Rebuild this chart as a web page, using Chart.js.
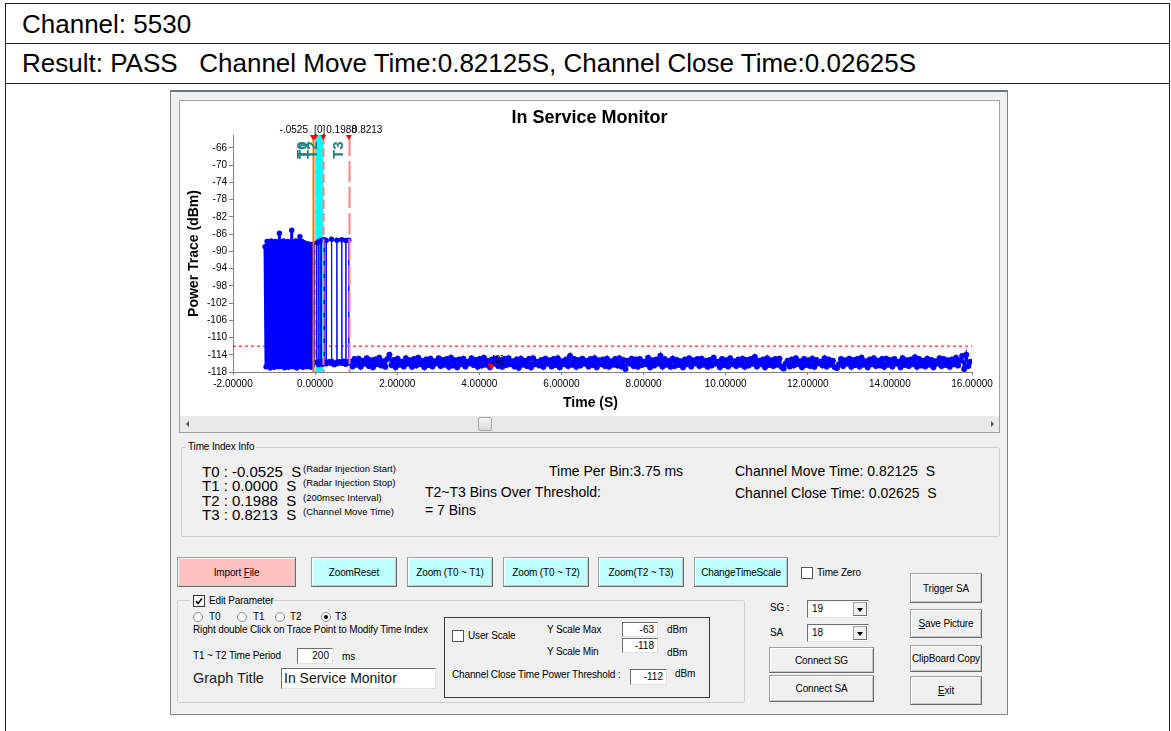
<!DOCTYPE html>
<html>
<head>
<meta charset="utf-8">
<title>In Service Monitor</title>
<script src="https://cdn.jsdelivr.net/npm/chart.js@4.4.1/dist/chart.umd.min.js"></script>
<style>
body{margin:0;width:1171px;height:731px;position:relative;overflow:hidden;background:#fff;font-family:"Liberation Sans",Arial,sans-serif;color:#000}
div,span{box-sizing:border-box}
.ln{position:absolute;background:#222}
.big{position:absolute;font-size:26px;line-height:30px;white-space:pre}
.win{position:absolute;left:170px;top:90px;width:838px;height:625px;background:#f0f0f0;border:1px solid #7d8790;border-top:2px solid #6a7682}
.panel{position:absolute;left:179px;top:100px;width:821px;height:333px;background:#fff;border:1px solid #a0a0a0}
#chartBox{position:absolute;left:180px;top:101px;width:819px;height:315px}
.sb{position:absolute;left:180px;top:416px;width:819px;height:16px;background:#e9e9e9}
.thumb{position:absolute;left:478px;top:417px;width:14px;height:14px;border:1px solid #a6a6a6;border-radius:2px;background:linear-gradient(#f6f6f6,#dadada)}
.grp{position:absolute;border:1px solid #cfcfcf;border-radius:2px}
.t{position:absolute;white-space:pre;font-size:10px;line-height:12px;letter-spacing:-0.15px}
.tb{position:absolute;white-space:pre;font-size:15px;line-height:16px}
.tm{position:absolute;white-space:pre;font-size:14px;line-height:16px}
.ts{position:absolute;white-space:pre;font-size:9.5px;line-height:12px}
.btn{position:absolute;background:#f0f0f0;border:1px solid #a0a0a0;border-right-color:#6a6a6a;border-bottom-color:#6a6a6a;box-shadow:inset 1px 1px #fff,inset -1px -1px #c8c8c8;font-size:10px;letter-spacing:-0.15px;display:flex;align-items:center;justify-content:center;white-space:pre}
.pink{background:#ffc0c0}
.cyan{background:#c0ffff}
.inp{position:absolute;background:#fff;border:1px solid;border-color:#6d6d6d #e0e0e0 #e0e0e0 #6d6d6d;font-size:10px;line-height:13px;text-align:right;padding-right:3px;white-space:pre}
.chk{position:absolute;width:12px;height:12px;background:#fff;border:1px solid #333}
.rad{position:absolute;width:10px;height:10px;border-radius:50%;background:#fff;border:1px solid #8a8a8a}
.combo{position:absolute;width:62px;background:#fff;border:1px solid;border-color:#6d6d6d #e0e0e0 #e0e0e0 #6d6d6d;font-size:10px;padding-left:4px;line-height:15px}
.drop{position:absolute;right:1px;top:1px;bottom:1px;width:14px;background:#f0f0f0;border:1px solid #a0a0a0;border-right-color:#6a6a6a;border-bottom-color:#6a6a6a}
.drop:after{content:"";position:absolute;left:3px;top:5px;border-left:3.5px solid transparent;border-right:3.5px solid transparent;border-top:4px solid #000}
</style>
</head>
<body>

<!-- report table -->
<div class="ln" style="left:5px;top:3px;width:1165px;height:1px"></div>
<div class="ln" style="left:5px;top:43px;width:1165px;height:1px"></div>
<div class="ln" style="left:5px;top:83px;width:1165px;height:1px"></div>
<div class="ln" style="left:5px;top:3px;width:1px;height:728px"></div>
<div class="ln" style="left:1169px;top:3px;width:1px;height:728px"></div>
<div class="big" style="left:22px;top:9px">Channel: 5530</div>
<div class="big" style="left:22px;top:48px">Result: PASS   Channel Move Time:0.82125S, Channel Close Time:0.02625S</div>

<!-- application window -->
<div class="win"></div>
<div class="panel"></div>
<div id="chartBox"><canvas id="chart"></canvas></div>
<div class="sb"></div>
<div style="position:absolute;left:186px;top:421px;border-top:3px solid transparent;border-bottom:3px solid transparent;border-right:3px solid #555"></div>
<div style="position:absolute;left:991px;top:421px;border-top:3px solid transparent;border-bottom:3px solid transparent;border-left:3px solid #555"></div>
<div class="thumb"></div>

<!-- time index info -->
<div class="grp" style="left:181px;top:447px;width:819px;height:90px"></div>
<div class="t" style="left:186px;top:441px;background:#f0f0f0;padding:0 2px">Time Index Info</div>
<div class="tb" style="left:202px;top:464px">T0 : -0.0525  S</div>
<div class="tb" style="left:202px;top:478px">T1 : 0.0000  S</div>
<div class="tb" style="left:202px;top:493px">T2 : 0.1988  S</div>
<div class="tb" style="left:202px;top:507px">T3 : 0.8213  S</div>
<div class="ts" style="left:303px;top:463px">(Radar Injection Start)</div>
<div class="ts" style="left:303px;top:477px">(Radar Injection Stop)</div>
<div class="ts" style="left:303px;top:492px">(200msec Interval)</div>
<div class="ts" style="left:303px;top:506px">(Channel Move Time)</div>
<div class="tm" style="left:549px;top:463px">Time Per Bin:3.75 ms</div>
<div class="tm" style="left:425px;top:484px">T2~T3 Bins Over Threshold:</div>
<div class="tm" style="left:425px;top:502px">= 7 Bins</div>
<div class="tm" style="left:735px;top:463px">Channel Move Time: 0.82125  S</div>
<div class="tm" style="left:735px;top:485px">Channel Close Time: 0.02625  S</div>

<!-- buttons row -->
<div class="btn pink" style="left:177px;top:557px;width:119px;height:30px">Import <u>F</u>ile</div>
<div class="btn cyan" style="left:311px;top:557px;width:86px;height:30px">ZoomReset</div>
<div class="btn cyan" style="left:407px;top:557px;width:86px;height:30px">Zoom (T0 ~ T1)</div>
<div class="btn cyan" style="left:503px;top:557px;width:86px;height:30px">Zoom (T0 ~ T2)</div>
<div class="btn cyan" style="left:598px;top:557px;width:86px;height:30px">Zoom(T2 ~ T3)</div>
<div class="btn cyan" style="left:694px;top:557px;width:94px;height:30px">ChangeTimeScale</div>
<div class="chk" style="left:801px;top:567px;border-color:#555"></div>
<div class="t" style="left:817px;top:567px">Time Zero</div>

<!-- edit parameter -->
<div class="grp" style="left:177px;top:600px;width:568px;height:103px"></div>
<div style="position:absolute;left:190px;top:594px;width:80px;height:14px;background:#f0f0f0"></div>
<div class="chk" style="left:193px;top:595px"><svg width="10" height="10" style="position:absolute;left:0;top:0"><polyline points="2,5 4,7.5 8,2.5" fill="none" stroke="#000" stroke-width="1.6"/></svg></div>
<div class="t" style="left:209px;top:595px">Edit Parameter</div>
<div class="rad" style="left:193px;top:612px"></div>
<div class="t" style="left:209px;top:611px">T0</div>
<div class="rad" style="left:237px;top:612px"></div>
<div class="t" style="left:253px;top:611px">T1</div>
<div class="rad" style="left:275px;top:612px"></div>
<div class="t" style="left:290px;top:611px">T2</div>
<div class="rad" style="left:321px;top:612px"><div style="position:absolute;left:2px;top:2px;width:4px;height:4px;border-radius:50%;background:#000"></div></div>
<div class="t" style="left:335px;top:611px">T3</div>
<div class="t" style="left:193px;top:624px">Right double Click on Trace Point to Modify Time Index</div>
<div class="t" style="left:193px;top:650px">T1 ~ T2 Time Period</div>
<div class="inp" style="left:297px;top:648px;width:36px;height:16px">200</div>
<div class="t" style="left:342px;top:651px">ms</div>
<div style="position:absolute;left:193px;top:669px;font-size:14.5px;line-height:18px;color:#222">Graph Title</div>
<div class="inp" style="left:281px;top:668px;width:155px;height:21px;text-align:left;padding-left:2px;font-size:14px;line-height:19px;color:#111">In Service Monitor</div>

<!-- scale box -->
<div style="position:absolute;left:444px;top:617px;width:266px;height:81px;border:1px solid #3a3a3a"></div>
<div class="chk" style="left:452px;top:630px;border-color:#555"></div>
<div class="t" style="left:468px;top:630px">User Scale</div>
<div class="t" style="left:547px;top:624px">Y Scale Max</div>
<div class="inp" style="left:622px;top:622px;width:36px;height:15px">-63</div>
<div class="t" style="left:667px;top:624px">dBm</div>
<div class="t" style="left:547px;top:646px">Y Scale Min</div>
<div class="inp" style="left:622px;top:638px;width:36px;height:15px">-118</div>
<div class="t" style="left:667px;top:647px">dBm</div>
<div class="t" style="left:452px;top:669px">Channel Close Time Power Threshold :</div>
<div class="inp" style="left:630px;top:669px;width:37px;height:16px">-112</div>
<div class="t" style="left:675px;top:668px">dBm</div>

<!-- SG / SA -->
<div class="t" style="left:770px;top:602px">SG :</div>
<div class="combo" style="left:807px;top:600px;height:18px">19<div class="drop"></div></div>
<div class="t" style="left:770px;top:627px">SA</div>
<div class="combo" style="left:807px;top:624px;height:18px">18<div class="drop"></div></div>
<div class="btn" style="left:769px;top:647px;width:105px;height:26px">Connect SG</div>
<div class="btn" style="left:769px;top:675px;width:105px;height:27px">Connect SA</div>

<div class="btn" style="left:910px;top:573px;width:72px;height:30px">Trigger SA</div>
<div class="btn" style="left:910px;top:609px;width:72px;height:29px"><u>S</u>ave Picture</div>
<div class="btn" style="left:910px;top:645px;width:72px;height:27px">ClipBoard Copy</div>
<div class="btn" style="left:910px;top:676px;width:72px;height:29px"><u>E</u>xit</div>

<script>
// axis setup
const X_MIN = -2, X_MAX = 16, X_STEP = 2;
const Y_MIN = -118, Y_MAX = -63;
const Y_TICKS = [-118, -114, -110, -106, -102, -98, -94, -90, -86, -82, -78, -74, -70, -66];
const THRESHOLD = -112;

// time index markers
const T_NAMES = ['T0', 'T1', 'T2', 'T3'];
const T_TIMES = [-0.0525, 0, 0.1988, 0.8213];
const T_TOP_LABELS = ['-.0525', '[0]', '0.1988', '0.8213'];

// peak marker "[0]"
const PEAK_TIME = 4.29;
const PEAK_POWER = -116.6;

// radar burst section: one reading per step, high/low alternating
const RADAR_T_START = -1.22, RADAR_T_STEP = 0.025;
const radarPower = [
  -88.9, -116.8, -87.7, -116.5, -87.9, -117.1, -87.6, -116.6, -88.0, -116.9,
  -87.7, -116.4, -87.8, -116.8, -85.8, -116.7, -87.9, -116.5, -87.6, -117.0,
  -88.1, -116.6, -87.7, -116.9, -87.9, -116.4, -85.1, -116.8, -87.8, -116.6,
  -87.6, -117.1, -87.9, -116.5, -86.6, -116.7, -87.7, -116.9, -88.0, -116.6,
  -88.2, -116.8, -88.3, -116.5, -88.4, -116.9, -88.4
];

// T0..T3 section: isolated bins over threshold
const stemTime = [
  -0.045, -0.040, -0.030, -0.020, -0.012, 0.005, 0.030, 0.035, 0.040, 0.085,
  0.090, 0.095, 0.140, 0.145, 0.150, 0.185, 0.215, 0.220, 0.225, 0.265,
  0.270, 0.275, 0.335, 0.395, 0.400, 0.405, 0.465, 0.525, 0.530, 0.535,
  0.590, 0.645, 0.650, 0.655, 0.700, 0.745, 0.750, 0.755, 0.790, 0.815,
  0.820, 0.825
];
const stemPower = [
  -116.4, -88.5, -116.2, -88.4, -116.0, -115.8, -115.6, -88.1, -116.1, -115.8,
  -87.7, -116.3, -115.5, -87.4, -115.9, -116.2, -116.0, -87.3, -115.7, -115.9,
  -87.5, -116.1, -115.6, -116.0, -87.2, -115.5, -116.3, -115.7, -87.4, -116.1,
  -115.6, -115.9, -87.3, -116.0, -115.5, -116.2, -87.5, -115.8, -115.6, -115.9,
  -87.4, -115.7
];

// noise floor after channel move
const FLOOR_T_START = 0.86, FLOOR_T_STEP = 0.05;
const floorPower = [
  -115.6, -116.7, -115.0, -116.3, -114.9, -116.8, -115.4, -116.1, -114.8, -116.6,
  -115.3, -116.9, -115.1, -116.2, -114.7, -116.5, -115.5, -116.8, -115.0, -114.0,
  -116.4, -115.2, -116.9, -114.9, -116.3, -115.6, -116.7, -114.8, -116.1, -115.3,
  -116.8, -115.0, -116.5, -114.7, -116.2, -115.4, -116.9, -115.1, -116.4, -114.9,
  -116.7, -115.5, -116.0, -114.8, -116.6, -115.2, -116.3, -115.0, -116.8, -114.7,
  -116.5, -115.3, -116.9, -115.1, -116.2, -114.9, -116.7, -115.6, -116.0, -114.8,
  -116.4, -115.2, -116.8, -115.0, -116.5, -114.7, -116.3, -115.4, -116.9, -115.1,
  -116.1, -114.9, -116.6, -115.3, -116.8, -115.0, -116.4, -114.8, -116.2, -115.5,
  -116.7, -115.1, -117.0, -114.9, -116.3, -115.4, -116.6, -115.0, -116.9, -114.8,
  -116.2, -115.6, -116.5, -115.2, -116.8, -114.9, -116.1, -115.3, -116.7, -115.0,
  -116.4, -114.8, -116.9, -115.5, -116.2, -115.1, -116.6, -114.3, -116.3, -115.0,
  -116.8, -115.2, -116.5, -114.9, -116.1, -115.4, -116.7, -115.0, -116.4, -114.8,
  -116.9, -115.3, -116.2, -115.1, -116.6, -114.9, -116.8, -115.5, -116.3, -115.0,
  -116.5, -114.8, -116.7, -115.2, -117.3, -115.4, -116.1, -114.9, -116.6, -115.1,
  -116.8, -115.0, -116.4, -115.6, -116.2, -114.7, -116.9, -115.3, -116.5, -115.1,
  -116.1, -114.2, -116.7, -115.0, -116.3, -115.4, -116.8, -114.9, -116.6, -115.2,
  -116.4, -115.5, -116.9, -115.1, -116.2, -114.8, -116.7, -115.3, -116.0, -115.0,
  -116.6, -114.9, -116.3, -115.4, -116.8, -115.2, -116.5, -114.7, -116.1, -115.6,
  -116.9, -115.0, -116.4, -115.3, -116.7, -114.8, -116.2, -115.5, -116.6, -115.1,
  -116.3, -114.9, -116.8, -115.2, -116.5, -115.0, -116.1, -114.5, -116.7, -115.4,
  -116.2, -115.1, -116.9, -114.8, -116.4, -115.3, -116.6, -115.0, -116.3, -114.9,
  -116.8, -117.2, -116.1, -115.4, -116.7, -115.1, -116.5, -114.8, -116.2, -115.5,
  -116.9, -115.0, -116.4, -115.3, -116.6, -114.9, -116.8, -115.2, -116.0, -115.6,
  -116.5, -114.8, -116.7, -115.1, -116.3, -115.4, -116.9, -117.1, -116.2, -115.0,
  -116.6, -115.3, -116.1, -114.9, -116.8, -115.2, -116.4, -115.0, -116.7, -114.7,
  -116.3, -115.5, -116.9, -115.1, -116.2, -114.8, -116.6, -115.4, -116.5, -115.0,
  -116.8, -114.9, -116.3, -115.2, -116.7, -115.0, -116.1, -115.6, -116.9, -114.8,
  -116.4, -115.3, -116.6, -115.1, -116.2, -114.6, -116.8, -115.0, -116.5, -115.4,
  -116.7, -114.9, -116.3, -115.2, -116.9, -115.5, -116.1, -114.8, -116.6, -115.0,
  -116.4, -115.3, -116.8, -115.1, -116.2, -114.7, -116.5, -115.4, -114.3, -117.3,
  -114.0, -116.6, -115.6
];

// trace split in three runs so each can take its own line weight
const radarPoints = radarPower.map((p, i) => ({ x: RADAR_T_START + i * RADAR_T_STEP, y: p }));
const stemPoints = stemTime.map((t, i) => ({ x: t, y: stemPower[i] }));
const floorPoints = floorPower.map((p, i) => ({ x: FLOOR_T_START + i * FLOOR_T_STEP, y: p }));

// marker line looks, in T0..T3 order
const T_STYLES = [
  { color: '#ff7000', width: 2, dash: [] },
  { color: '#ffe000', width: 1, dash: [5, 5] },
  { color: '#ff8080', width: 2, dash: [9, 4] },
  { color: '#ff8080', width: 2, dash: [21, 5] }
];

const markerPlugin = {
  id: 'timeMarkers',
  beforeDatasetsDraw(chart){
    const { ctx, chartArea: a, scales: { x } } = chart;
    const x1 = x.getPixelForValue(T_TIMES[1]);
    const x2 = x.getPixelForValue(T_TIMES[2]);
    ctx.save();
    ctx.fillStyle = '#00ffff';
    ctx.fillRect(x1, a.top, x2 - x1, a.bottom - a.top);
    ctx.restore();
  },
  afterDatasetsDraw(chart){
    const { ctx, chartArea: a, scales: { x, y } } = chart;
    ctx.save();
    // vertical time lines
    T_TIMES.forEach((t, i) => {
      const px = Math.round(x.getPixelForValue(t)) + 0.5;
      const st = T_STYLES[i];
      ctx.strokeStyle = st.color; ctx.lineWidth = st.width; ctx.setLineDash(st.dash);
      ctx.beginPath(); ctx.moveTo(px, a.top); ctx.lineTo(px, a.bottom); ctx.stroke();
    });
    ctx.setLineDash([]);
    // red flags at the top
    ctx.fillStyle = '#ff0000';
    T_TIMES.forEach(t => {
      const px = x.getPixelForValue(t);
      ctx.beginPath(); ctx.moveTo(px - 3, a.top); ctx.lineTo(px + 3, a.top); ctx.lineTo(px, a.top + 5); ctx.closePath(); ctx.fill();
    });
    // value labels above the plot
    ctx.fillStyle = '#000'; ctx.font = '10px "Liberation Sans", Arial'; ctx.textBaseline = 'middle';
    T_TIMES.forEach((t, i) => {
      const px = x.getPixelForValue(t);
      if(i === 0){ ctx.textAlign = 'right'; ctx.fillText(T_TOP_LABELS[i], px - 5, a.top - 5); }
      else { ctx.textAlign = 'left'; ctx.fillText(T_TOP_LABELS[i], px + (i === 1 ? -1 : 3), a.top - 5); }
    });
    // rotated T names
    ctx.fillStyle = '#1f8080'; ctx.font = 'bold 15px "Liberation Sans", Arial'; ctx.textAlign = 'left';
    T_TIMES.forEach((t, i) => {
      const px = x.getPixelForValue(t);
      ctx.save(); ctx.translate(px - 10, a.top + 24); ctx.rotate(-Math.PI / 2);
      ctx.fillText(T_NAMES[i], 0, 0); ctx.restore();
    });
    // peak label
    ctx.fillStyle = '#000'; ctx.font = '10px "Liberation Sans", Arial';
    ctx.fillText('[0]', x.getPixelForValue(PEAK_TIME) + 1, y.getPixelForValue(PEAK_POWER) - 6);
    ctx.restore();
  },
  afterDraw(chart){
    const { ctx, chartArea: a } = chart;
    ctx.save();
    ctx.fillStyle = '#000'; ctx.textAlign = 'center'; ctx.textBaseline = 'middle';
    ctx.font = 'bold 18px "Liberation Sans", Arial';
    ctx.fillText('In Service Monitor', chart.width / 2, 17);
    ctx.font = 'bold 14px "Liberation Sans", Arial';
    ctx.fillText('Time (S)', chart.width / 2 + 1, a.bottom + 31);
    ctx.restore();
  }
};

const traceStyle = { showLine: true, borderColor: '#0000ff', pointBackgroundColor: '#0000ff', pointBorderWidth: 0, tension: 0 };

new Chart(document.getElementById('chart'), {
  type: 'scatter',
  data: {
    datasets: [
      { data: [{ x: PEAK_TIME, y: PEAK_POWER }], pointStyle: 'triangle', rotation: 180, pointRadius: 4, backgroundColor: '#ff0000', borderWidth: 0 },
      { ...traceStyle, data: stemPoints, borderWidth: 1, pointRadius: 2.7 },
      { ...traceStyle, data: floorPoints, borderWidth: 2.2, pointRadius: 3 },
      { ...traceStyle, data: radarPoints, borderWidth: 3, pointRadius: 2.7 },
      { data: [{ x: X_MIN, y: THRESHOLD }, { x: X_MAX, y: THRESHOLD }], showLine: true, borderColor: '#ff0000', borderWidth: 1, borderDash: [3, 3], pointRadius: 0 }
    ]
  },
  options: {
    responsive: true, maintainAspectRatio: false, animation: false, devicePixelRatio: 1,
    layout: { padding: { top: 34, right: 27, left: 0, bottom: 0 } },
    plugins: { legend: { display: false }, tooltip: { enabled: false } },
    scales: {
      x: {
        type: 'linear', min: X_MIN, max: X_MAX,
        ticks: { stepSize: X_STEP, color: '#000', font: { size: 10, family: '"Liberation Sans", Arial' }, padding: 3, maxRotation: 0, callback: v => v.toFixed(5) },
        grid: { drawOnChartArea: false, color: '#808080', tickLength: 3 },
        border: { color: '#808080' },
        afterFit: s => { s.height = 44; }
      },
      y: {
        min: Y_MIN, max: Y_MAX,
        afterBuildTicks: s => { s.ticks = Y_TICKS.map(v => ({ value: v })); },
        ticks: { color: '#000', font: { size: 10, family: '"Liberation Sans", Arial' }, padding: 2 },
        grid: { drawOnChartArea: false, color: '#808080', tickLength: 4 },
        border: { color: '#808080' },
        title: { display: true, text: 'Power Trace (dBm)', color: '#000', font: { size: 14, weight: 'bold', family: '"Liberation Sans", Arial' }, padding: { top: 6, bottom: 0 } },
        afterFit: s => { s.width = 53; }
      }
    }
  },
  plugins: [markerPlugin]
});
</script>
</body>
</html>
